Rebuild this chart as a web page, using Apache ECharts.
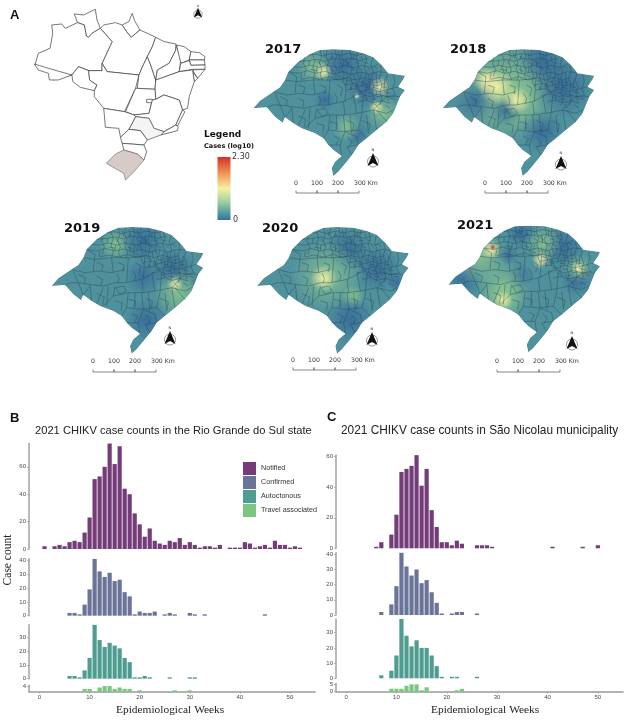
<!DOCTYPE html>
<html><head><meta charset="utf-8">
<script src="https://cdn.jsdelivr.net/npm/echarts@6/dist/echarts.min.js"></script>
<style>html,body{margin:0;padding:0;background:#fff}#c{width:624px;height:722px}</style>
</head><body><div id="c"></div>
<script>
// ---------- bar chart data: [epidemiological week, case count] ----------
const rsNotified=[[1,2],[3,2],[4,3],[5,2],[6,5],[7,6],[8,5],[9,12],[10,23],[11,51],[12,53],[13,60],[14,77],[15,62],[16,75],[17,44],[18,40],[19,26],[20,18],[21,9],[22,15],[23,6],[24,4],[25,3],[26,6],[27,5],[28,8],[29,3],[30,5],[31,3],[32,1],[33,2],[34,2],[35,1],[36,3],[38,1],[39,1],[40,1],[41,5],[42,4],[43,1],[44,2],[45,3],[46,1],[47,6],[48,3],[49,3],[50,1],[51,2],[52,1]];
const rsConfirmed=[[6,2],[7,2],[8,1],[9,8],[10,19],[11,41],[12,32],[13,28],[14,31],[15,25],[16,26],[17,17],[18,14],[19,1],[20,3],[21,2],[22,2],[23,3],[25,1],[26,2],[27,1],[30,2],[31,1],[33,1],[45,1]];
const rsAutochthonous=[[6,2],[7,2],[8,1],[9,6],[10,15],[11,39],[12,28],[13,23],[14,26],[15,24],[16,22],[17,15],[18,12],[19,1],[20,1],[21,2],[22,1],[26,1],[30,1],[31,1]];
const rsTravel=[[9,2],[10,2],[12,3],[13,4],[14,4],[15,2],[16,3],[17,2],[18,2],[20,1],[27,1],[30,1]];
const snNotified=[[6,1],[7,4],[9,9],[10,22],[11,50],[12,52],[13,54],[14,61],[15,41],[16,52],[17,25],[18,14],[19,4],[20,4],[21,2],[22,5],[23,3],[26,2],[27,2],[28,2],[29,1],[41,1],[47,1],[50,2]];
const snConfirmed=[[7,2],[9,7],[10,19],[11,41],[12,32],[13,26],[14,30],[15,21],[16,23],[17,15],[18,8],[19,1],[21,1],[22,2],[23,2],[26,1]];
const snAutochthonous=[[7,2],[9,5],[10,15],[11,39],[12,28],[13,21],[14,25],[15,20],[16,20],[17,15],[18,8],[19,1],[21,1],[22,1],[26,1]];
const snTravel=[[9,2],[10,2],[11,2],[12,4],[13,5],[14,5],[15,1],[16,3],[22,1],[23,2]];
const weekTicks=[0,10,20,30,40,50];
const seriesNames=['Notified','Confirmed','Autoctonous','Travel associated'];

// ---------- map data: shapes in a shared map space ----------
const rsOutline=[[70,235],[90,212],[130,185],[150,172],[165,150],[175,125],[205,95],[240,72],[270,60],[310,58],[360,60],[400,70],[430,82],[455,105],[475,130],[525,137],[520,148],[505,170],[525,180],[510,200],[500,225],[490,250],[470,275],[440,300],[410,325],[385,345],[370,370],[350,395],[325,425],[310,438],[305,415],[315,395],[335,378],[310,360],[295,345],[280,325],[255,310],[215,295],[190,280],[165,262],[158,278],[135,260],[110,232]];
const rsBorders=[
[130,185,170,195,210,190,250,195,290,185],[135,190,150,225,185,230,225,235,260,225,290,225,340,215,380,195],[110,232,130,225,150,225],[165,262,185,235],[205,290,225,240],[225,295,255,265,300,255,340,255,380,250,430,240,470,250],[255,265,260,235],[262,240,285,235,295,250,275,260,262,240],[280,325,295,300,300,255],[295,300,340,305,385,300,410,325],[340,255,345,305,330,345,295,345],[345,305,380,320,385,345],[385,300,395,255],[430,240,440,300],[380,250,370,195],[340,215,345,255],[175,125,200,140,195,190],[165,150,200,155,250,150,300,150,350,145],[250,150,255,195],[300,150,295,225],[350,145,345,215],[400,195,395,255],[430,240,470,200,510,200],[470,250,490,240],[335,378,330,345],[365,375,350,350,385,345],[185,230,190,280],[150,225,165,262],[320,255,318,300],[360,255,365,310],[410,255,415,310],[240,235,235,295],[440,240,470,275],
[205,205,222,214,218,233],[150,200,172,210,168,228],[265,196,272,212,268,226],[312,188,322,205,318,220],[205,258,228,268,222,292],[260,280,282,286,278,310],[300,275,322,280,320,298],[352,272,372,280,368,302],[395,272,420,282,416,305],[312,318,328,326,318,345],[352,322,366,335,358,350],[205,165,225,172,220,190],[270,165,288,172,284,192],[322,165,338,175,332,198],
[235,76,258,72,280,78,305,70,330,76,355,70,380,76,400,72],[205,95,235,92,262,88,285,94,310,85,335,90,362,84,390,92,415,85],[190,110,215,112,240,106,268,112,292,105,320,112,345,106,372,113,398,106,425,112,445,102],[178,125,205,130,232,122,258,130,285,124,312,132,338,125,365,133,392,126,418,133,445,125,470,128],[215,148,240,142,270,148,298,140,325,150,350,143,378,150,402,143,428,150,452,144],[345,165,370,160,392,168,415,161,440,168,465,160],[350,180,375,176,398,184,422,177,448,185,475,178,505,170],[370,195,395,192,418,200,445,193,470,200,500,195],[385,215,410,210,432,218,455,212,480,220],
[225,80,220,100,228,118,222,140],[248,74,255,92,248,112,255,130,250,150],[270,62,275,80,268,98,276,118,270,135,278,150],[292,60,288,78,296,96,290,115,298,135,292,152],[315,60,320,80,312,100,320,118,314,135,322,150],[338,60,334,78,342,95,335,115,343,135,338,150,346,170],[360,62,365,82,358,100,366,120,360,140,368,160,362,180],[382,66,378,85,386,105,380,125,388,145,382,165,390,185],[405,74,410,92,403,110,410,130,403,150,411,170,404,190,412,210],[428,84,423,105,430,125,424,145,432,165,425,185,432,205,426,225],[450,105,455,125,448,145,456,165,450,185,456,205,450,225],[472,132,468,150,476,170,470,190,476,215],[490,135,495,155,488,175,495,195],
[350,125,354,143],[372,133,376,152],[395,126,392,143],[415,133,418,150],[438,128,440,148],[360,168,364,180],[378,155,380,178],[398,150,400,168],[420,150,418,177],[440,150,442,168],[465,145,462,178],[392,184,395,192],[440,185,438,195],[238,92,236,106],[262,112,260,128],[304,110,306,130],[330,112,326,128],[304,78,302,90],[350,85,352,106],[215,130,212,148],
[282,68,286,86],[305,72,308,88],[326,66,330,88],[372,72,370,90],[394,78,398,92],[262,92,272,104],[345,92,354,98,352,112],[376,98,388,100],[398,96,414,100],[325,95,338,103],[285,100,300,112],[242,118,262,122],[298,118,312,124],[318,135,334,142],[362,108,375,120],[385,115,398,120],[412,112,422,122],[430,108,444,116],[352,150,366,155],[388,155,400,158],[410,152,428,158],[435,158,448,156],[372,168,388,172],[405,172,420,170],[428,172,445,176],[455,170,470,172],[382,186,400,188],[412,188,428,190],[440,200,458,198],[462,185,480,190],[480,205,496,208],[398,200,410,206],[420,206,438,208],[435,222,448,238],[465,225,480,235]
];
// hot spots per year: [x, y, radius, kind]; kind 0 blue, 1 green, 2 pale yellow, 3 red
const hot2017=[[340,105,65,0],[410,170,70,0],[380,312,38,0],[285,210,32,0],[460,250,55,1],[350,292,45,1],[250,112,50,1],[280,125,28,2],[450,170,32,2],[440,232,22,2],[380,198,10,2]];
const hot2018=[[235,170,150,1],[295,210,125,1],[430,170,95,0],[370,95,70,0],[370,305,65,0],[167,212,70,0],[257,242,50,0],[232,170,55,2],[292,210,42,2],[200,150,40,2]];
const hot2019=[[345,100,65,0],[355,337,65,0],[345,207,55,0],[435,187,65,0],[505,225,25,0],[450,257,75,1],[260,112,48,1],[440,229,24,2]];
const hot2020=[[345,125,65,0],[349,337,75,0],[430,185,70,0],[490,225,30,0],[280,205,110,1],[360,265,35,1],[270,212,40,2]];
const hot2021=[[115,216,60,0],[285,211,40,0],[245,146,30,0],[415,121,65,0],[285,81,45,0],[455,221,50,0],[235,245,85,1],[235,281,65,1],[165,151,90,1],[355,111,55,1],[460,186,45,1],[347,161,28,2],[460,186,22,2],[198,131,30,2],[235,281,28,2],[203,123,9,3]];
const years=['2017','2018','2019','2020','2021'];
// Brazil states
const brazilStates={
RR:[[222,42],[250,45],[285,28],[290,60],[300,85],[275,100],[265,112],[258,108],[252,75],[232,68]],
AP:[[395,40],[402,62],[418,90],[392,112],[378,95],[365,75],[385,65]],
PA:[[300,85],[310,75],[345,68],[365,75],[378,95],[392,112],[418,90],[440,100],[465,112],[455,140],[440,170],[428,195],[415,225],[320,215],[305,190],[335,125]],
AM:[[155,75],[185,72],[195,85],[232,68],[252,75],[258,108],[265,112],[275,100],[300,85],[335,125],[305,190],[305,212],[265,212],[235,200],[215,225],[160,240],[148,215],[105,195],[115,160],[150,145],[158,100]],
AC:[[103,192],[145,205],[215,225],[175,240],[148,240],[145,220],[115,210]],
RO:[[215,225],[235,200],[265,212],[268,240],[290,255],[282,272],[240,262],[218,245]],
MT:[[265,212],[305,212],[305,190],[320,215],[415,225],[405,265],[372,335],[310,325],[282,290],[282,272],[290,255],[268,240]],
TO:[[440,170],[450,195],[465,240],[463,268],[410,265],[415,225],[428,195]],
MA:[[465,112],[490,125],[525,132],[525,150],[505,190],[470,210],[465,240],[450,195],[440,170],[455,140]],
PI:[[527,135],[540,180],[535,215],[480,235],[465,240],[470,210],[505,190],[525,150]],
CE:[[527,135],[550,140],[570,155],[565,180],[540,190]],
RN:[[570,155],[595,158],[612,170],[610,180],[565,180]],
PB:[[565,180],[610,180],[612,195],[570,196]],
PE:[[540,190],[565,182],[570,196],[612,195],[612,208],[575,208],[535,215]],
AL:[[575,210],[612,208],[590,235]],
SE:[[575,215],[590,235],[580,245]],
BA:[[465,240],[480,235],[535,215],[575,210],[580,245],[565,290],[560,325],[545,330],[535,300],[490,285],[465,298],[463,268]],
GO:[[410,265],[463,268],[465,298],[455,300],[445,340],[400,345],[375,335],[405,265]],
DF:[[438,298],[455,298],[455,308],[438,308]],
MG:[[465,298],[490,285],[535,300],[545,330],[525,375],[490,395],[460,385],[445,355],[405,350],[400,345],[445,340],[455,300]],
ES:[[545,330],[552,335],[530,378],[525,375]],
RJ:[[525,375],[532,380],[530,392],[480,405],[490,395]],
SP:[[405,350],[445,355],[460,385],[490,395],[480,405],[440,420],[420,392],[385,388]],
MS:[[310,325],[372,335],[400,345],[405,350],[385,388],[360,412],[355,385],[315,382]],
PR:[[385,388],[420,392],[440,420],[430,435],[365,430],[360,412]],
SC:[[365,430],[430,435],[438,455],[430,480],[410,462],[370,450]],
RS:[[370,450],[410,462],[430,480],[400,515],[375,540],[370,520],[318,490],[345,462]]
};

// ---------- helpers ----------
const flip=p=>[p[0],-p[1]];
const margin=40;
let minX=1e9,maxX=-1e9,minY=1e9,maxY=-1e9;
rsOutline.forEach(p=>{minX=Math.min(minX,p[0]);maxX=Math.max(maxX,p[0]);minY=Math.min(minY,p[1]);maxY=Math.max(maxY,p[1]);});
const frame=[[minX-margin,minY-margin],[minX-margin,maxY+margin],[maxX+margin,maxY+margin],[maxX+margin,minY-margin],[minX-margin,minY-margin]];
const maskRing=frame.concat([rsOutline[0]],rsOutline.slice(1),[rsOutline[0],frame[0]]);
echarts.registerMap('rs',{type:'FeatureCollection',features:[
 {type:'Feature',properties:{name:'rs'},geometry:{type:'Polygon',coordinates:[rsOutline.concat([rsOutline[0]]).map(flip)]}},
 {type:'Feature',properties:{name:'mask'},geometry:{type:'Polygon',coordinates:[maskRing.map(flip)]}}
]});
echarts.registerMap('brazil',{type:'FeatureCollection',features:Object.keys(brazilStates).map(k=>({type:'Feature',properties:{name:k},geometry:{type:'Polygon',coordinates:[brazilStates[k].concat([brazilStates[k][0]]).map(flip)]}}))});

const panelPos={'2017':[230,30],'2018':[419.3,30],'2019':[28.3,207.7],'2020':[233.7,207.7],'2021':[425,206.3]};
const hotByYear={'2017':hot2017,'2018':hot2018,'2019':hot2019,'2020':hot2020,'2021':hot2021};
const kindColor=[['rgba(52,104,155,.85)','rgba(52,104,155,0)'],['rgba(150,205,140,.75)','rgba(150,205,140,0)'],['rgba(245,240,165,.95)','rgba(245,240,165,0)'],['rgba(215,40,35,1)','rgba(215,40,35,0)']];

const geos=[],series=[];
years.forEach(y=>{
  const [ox,oy]=panelPos[y];
  const box={left:ox+(minX-margin)/3,top:oy+(minY-margin)/3,width:(maxX-minX+2*margin)/3,height:(maxY-minY+2*margin)/3};
  const common=Object.assign({map:'rs',aspectScale:1,roam:false,silent:true,label:{show:false},emphasis:{disabled:true}},box);
  const baseIdx=geos.length;
  geos.push(Object.assign({},common,{z:1,itemStyle:{areaColor:'#4f919d',borderWidth:0},regions:[{name:'mask',itemStyle:{areaColor:'rgba(0,0,0,0)',borderWidth:0}}]}));
  geos.push(Object.assign({},common,{z:4,itemStyle:{areaColor:'rgba(0,0,0,0)',borderWidth:0},regions:[{name:'mask',itemStyle:{areaColor:'#fff',borderWidth:0}},{name:'rs',itemStyle:{areaColor:'rgba(0,0,0,0)',borderColor:'#4a6b73',borderWidth:.4}}]}));
  series.push({type:'scatter',coordinateSystem:'geo',geoIndex:baseIdx,z:2,silent:true,animation:false,
    data:hotByYear[y].map(h=>({value:[h[0],-h[1]],symbolSize:h[2]*2/3,itemStyle:{opacity:1,color:new echarts.graphic.RadialGradient(.5,.5,.5,[{offset:0,color:kindColor[h[3]][0]},{offset:1,color:kindColor[h[3]][1]}])}}))});
  series.push({type:'lines',coordinateSystem:'geo',geoIndex:baseIdx,polyline:true,z:3,silent:true,animation:false,
    lineStyle:{color:'#2b4650',width:.5,opacity:.85},
    data:rsBorders.map(a=>{const c=[];for(let i=0;i<a.length;i+=2)c.push([a[i],-a[i+1]]);return {coords:c};})});
});
geos.push({map:'brazil',aspectScale:1,roam:false,silent:true,left:34.3,top:9.3,width:170.7,height:170.7,z:1,label:{show:false},emphasis:{disabled:true},
  itemStyle:{areaColor:'#fff',borderColor:'#3d3d3d',borderWidth:.7},
  regions:[{name:'RS',itemStyle:{areaColor:'#d7cbc8',borderColor:'#7c7270'}},{name:'SP',itemStyle:{areaColor:'#f6f4f2',borderColor:'#555'}}]});

// ---------- bar panels ----------
const colors=['#743c78','#6a7498','#4f9c91','#7cc67f'];
const panels=[
 {left:29,width:286,xmin:-2.1,rows:[
  {d:rsNotified,base:549,scale:1.37,max:77,t:[0,20,40,60]},
  {d:rsConfirmed,base:615.7,scale:1.385,max:41,t:[0,10,20,30,40]},
  {d:rsAutochthonous,base:678.7,scale:1.38,max:39,t:[0,10,20,30]},
  {d:rsTravel,base:691.7,scale:1.4,max:4.5,t:[0,4]}]},
 {left:336,width:287,xmin:-2,rows:[
  {d:snNotified,base:548.3,scale:1.527,max:61,t:[0,20,40,60]},
  {d:snConfirmed,base:615,scale:1.517,max:41,t:[0,10,20,30,40]},
  {d:snAutochthonous,base:678.3,scale:1.52,max:39,t:[0,10,20,30]},
  {d:snTravel,base:691.7,scale:1.47,max:5.5,t:[0,5]}]}
];
const grids=[],xAxes=[],yAxes=[];
panels.forEach(p=>{p.rows.forEach((r,i)=>{
  const g=grids.length,last=i===3;
  grids.push({left:p.left,width:p.width,top:r.base-r.max*r.scale,height:r.max*r.scale,containLabel:false});
  xAxes.push({type:'value',gridIndex:g,min:p.xmin,max:55,show:last,splitLine:{show:false},
    axisLine:{show:last,onZero:false,lineStyle:{color:'#9a9a9a',width:1.6}},
    axisTick:{show:true,length:2,customValues:weekTicks,lineStyle:{color:'#999',width:.6}},
    axisLabel:{show:last,customValues:weekTicks,fontSize:6,color:'#4a4a4a',margin:3,fontFamily:'Liberation Sans'}});
  yAxes.push({type:'value',gridIndex:g,min:0,max:r.max,splitLine:{show:false},
    axisLine:{show:true,onZero:false,lineStyle:{color:'#a8a8a8',width:1.6}},
    axisTick:{show:true,length:2,customValues:r.t,lineStyle:{color:'#999',width:.6}},
    axisLabel:{customValues:r.t,fontSize:6,color:'#4a4a4a',margin:3,fontFamily:'Liberation Sans'}});
  series.push({type:'bar',name:seriesNames[i],xAxisIndex:g,yAxisIndex:g,data:r.d,barWidth:4.2,animation:false,silent:true,itemStyle:{color:colors[i]}});
});});

// ---------- drawn annotations ----------
const gfx=[];
const txt=(s,x,y,size,o)=>gfx.push({type:'text',x,y,z:50,rotation:(o&&o.rot)||0,style:{text:s,fontSize:size,fontFamily:(o&&o.font)||'DejaVu Sans',fontWeight:(o&&o.weight)||'normal',fill:(o&&o.fill)||'#111',textAlign:(o&&o.align)||'left',textVerticalAlign:'middle'}});
txt('A',10,15,13,{weight:'bold',font:'Liberation Sans'});
txt('B',10,418,13,{weight:'bold',font:'Liberation Sans'});
txt('C',327,417,13,{weight:'bold',font:'Liberation Sans'});
[['2017',265,50],['2018',450,50],['2019',64,229],['2020',262,229],['2021',457,226]].forEach(a=>txt(a[0],a[1],a[2],13,{weight:'bold'}));
txt('Legend',204,135,9,{weight:'bold'});
txt('Cases (log10)',204,146,6.5,{weight:'bold'});
gfx.push({type:'rect',z:50,shape:{x:217.5,y:157,width:13,height:63},style:{fill:new echarts.graphic.LinearGradient(0,0,0,1,[{offset:0,color:'#d3302b'},{offset:.25,color:'#f2904f'},{offset:.5,color:'#f6f0a4'},{offset:.72,color:'#9ccf9a'},{offset:.9,color:'#4f95a0'},{offset:1,color:'#3a6f9c'}])}});
txt('2.30',232,157,8,{fill:'#333'});txt('0',233,220,8,{fill:'#333'});
txt('2021 CHIKV case counts in the Rio Grande do Sul state',35,431,11.15,{font:'Liberation Sans',fill:'#222'});
txt('2021 CHIKV case counts in São Nicolau municipality',341,431,11.85,{font:'Liberation Sans',fill:'#222'});
txt('Case count',8,560,11.5,{font:'Liberation Serif',rot:Math.PI/2,align:'center',fill:'#222'});
txt('Epidemiological Weeks',116,710,11.4,{font:'Liberation Serif',fill:'#222'});
txt('Epidemiological Weeks',431,710,11.4,{font:'Liberation Serif',fill:'#222'});
[[296,193,183],[485,193,183],[93,372,361],[293,370,360],[497,372,361]].forEach(b=>{
  const [x,y,ly]=b,st=21;
  gfx.push({type:'polyline',z:50,shape:{points:[[x,y-2.5],[x,y],[x+st,y],[x+st,y-2.5],[x+st,y],[x+2*st,y],[x+2*st,y-2.5],[x+2*st,y],[x+3*st,y],[x+3*st,y-2.5]]},style:{stroke:'#555',lineWidth:.7,fill:null}});
  ['0','100','200'].forEach((t,i)=>txt(t,x+i*st,ly,6.2,{align:'center',fill:'#333'}));
  txt('300 Km',x+3*st-5,ly,6.2,{fill:'#333'});
});
[[373,160,1],[561,163,1],[170,338,1],[372,339,1],[572,343,1],[198,13,.75]].forEach(a=>{
  const [x,y,k]=a;
  gfx.push({type:'circle',z:50,shape:{cx:x,cy:y+1.5*k,r:5.5*k},style:{stroke:'#333',lineWidth:.5,fill:null}});
  gfx.push({type:'polygon',z:51,shape:{points:[[x,y-7*k],[x+5.5*k,y+6*k],[x,y+3*k],[x-5.5*k,y+6*k]]},style:{fill:'#111'}});
  txt('N',x-1.5*k,y-9.5*k,3.5*k,{fill:'#111'});
});

echarts.init(document.getElementById('c'),null,{renderer:'canvas'}).setOption({
  animation:false,backgroundColor:'#fff',
  geo:geos,grid:grids,xAxis:xAxes,yAxis:yAxes,series,graphic:gfx,
  legend:{orient:'vertical',left:238,top:457,itemWidth:13,itemHeight:13,itemGap:1,selectedMode:false,icon:'rect',data:seriesNames,
    textStyle:{fontSize:7.2,color:'#333',fontFamily:'Liberation Sans'}},
  tooltip:{show:false}
});
</script></body></html>
